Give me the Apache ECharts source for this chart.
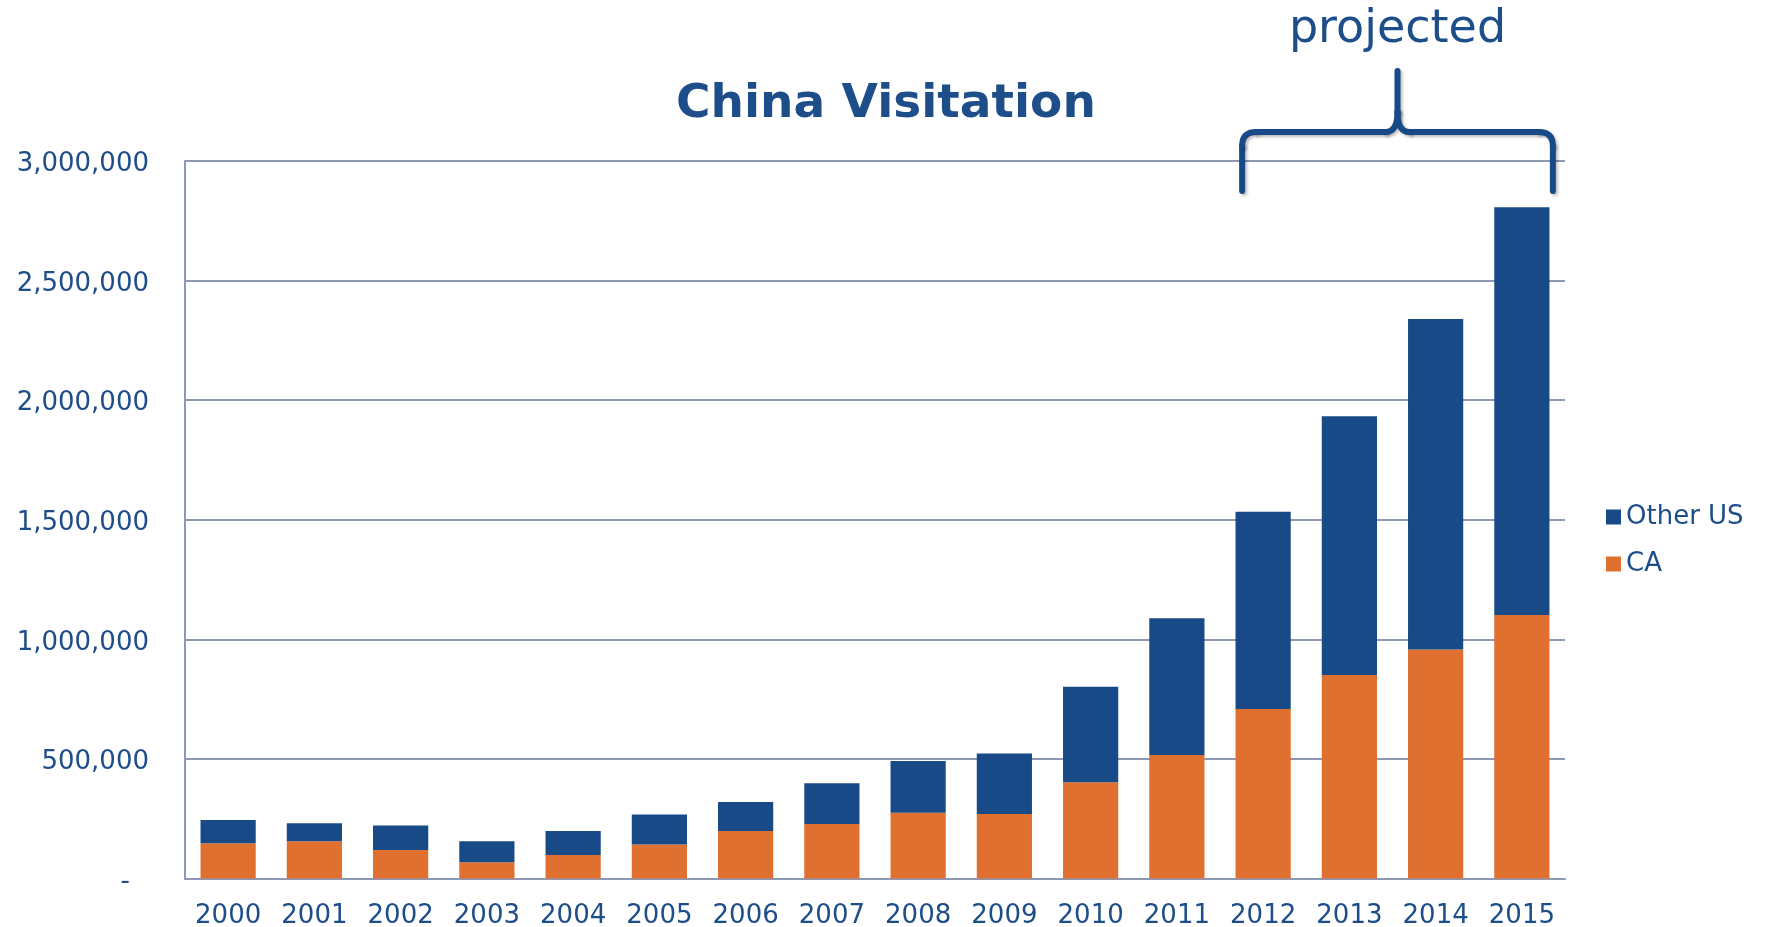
<!DOCTYPE html>
<html>
<head>
<meta charset="utf-8">
<title>China Visitation</title>
<script src="https://cdn.jsdelivr.net/npm/echarts@6/dist/echarts.min.js"></script>
<style>
  html, body { margin: 0; padding: 0; background: #fff; }
  #main { width: 1769px; height: 927px; }
</style>
</head>
<body>
<div id="main"></div>
<script>
  // data
  var years = ['2000', '2001', '2002', '2003', '2004', '2005', '2006', '2007',
               '2008', '2009', '2010', '2011', '2012', '2013', '2014', '2015']
  var caVisits = [147000, 156000, 119000, 68000, 98000, 142000, 199000, 228000,
                  275000, 270000, 402000, 516000, 709000, 851000, 958000, 1102000]
  var otherUsVisits = [98000, 75000, 103000, 88000, 101000, 126000, 121000, 170000,
                       216000, 253000, 400000, 572000, 824000, 1082000, 1381000, 1705000]
  var projectedFrom = '2012'
  var projectedTo = '2015'

  var blue = '#174a87'
  var orange = '#e07030'
  var textBlue = '#1d4e89'
  var lineColor = '#8c98b4'
  var font = 'DejaVu Sans'

  var chart = echarts.init(document.getElementById('main'))

  var option = {
    animation: false,
    title: {
      text: 'China Visitation',
      left: 671,
      top: 76,
      textStyle: {
        color: textBlue,
        fontFamily: font,
        fontSize: 47,
        fontWeight: 'bold'
      }
    },
    legend: {
      orient: 'vertical',
      left: 1601,
      top: 499,
      itemWidth: 15,
      itemHeight: 15,
      itemGap: 21,
      icon: 'rect',
      textStyle: {
        color: textBlue,
        fontFamily: font,
        fontSize: 26,
        lineHeight: 26
      },
      data: ['Other US', 'CA']
    },
    grid: {
      left: 185,
      right: 204,
      top: 161,
      bottom: 48.5,
      outerBoundsMode: 'none'
    },
    xAxis: {
      type: 'category',
      data: years,
      axisLine: { show: true, lineStyle: { color: lineColor, width: 2 } },
      axisTick: { show: false },
      axisLabel: {
        color: textBlue,
        fontFamily: font,
        fontSize: 26,
        margin: 25,
        interval: 0
      }
    },
    yAxis: {
      type: 'value',
      min: 0,
      max: 3000000,
      interval: 500000,
      axisLine: { show: true, lineStyle: { color: lineColor, width: 2 } },
      axisTick: { show: false },
      splitLine: { lineStyle: { color: lineColor, width: 2 } },
      axisLabel: {
        color: textBlue,
        fontFamily: font,
        fontSize: 26,
        margin: 36,
        padding: [7, 0, 0, 0],
        formatter: function (v) {
          if (v === 0) return '{dash|-}'
          return v.toLocaleString('en-US')
        },
        rich: {
          dash: { color: textBlue, fontFamily: font, fontSize: 26, padding: [0, 19, 0, 0] }
        }
      }
    },
    series: [
      {
        name: 'CA',
        type: 'bar',
        stack: 'visits',
        barWidth: '64%',
        itemStyle: { color: orange },
        data: caVisits
      },
      {
        name: 'Other US',
        type: 'bar',
        stack: 'visits',
        barWidth: '64%',
        itemStyle: { color: blue },
        data: otherUsVisits
      }
    ]
  }

  chart.setOption(option)

  // brace over the projected years, placed from the axes
  var xl = chart.convertToPixel({ xAxisIndex: 0 }, projectedFrom) - 21
  var xr = chart.convertToPixel({ xAxisIndex: 0 }, projectedTo) + 31
  var xm = (xl + xr) / 2
  var yTop = chart.convertToPixel({ yAxisIndex: 0 }, 3000000)
  var yb = yTop + 30
  var yh = yTop - 29
  var ys = yTop - 90
  var r = 14

  var braceStyle = {
    fill: null,
    stroke: blue,
    lineWidth: 6,
    lineCap: 'round',
    lineJoin: 'round',
    shadowBlur: 3,
    shadowOffsetX: 2,
    shadowOffsetY: 2,
    shadowColor: 'rgba(0,0,0,0.25)'
  }

  function seg(x1, y1, x2, y2) {
    return { type: 'line', shape: { x1: x1, y1: y1, x2: x2, y2: y2 }, style: braceStyle }
  }
  function curve(x1, y1, cx, cy, x2, y2) {
    return { type: 'bezierCurve', shape: { x1: x1, y1: y1, cpx1: cx, cpy1: cy, x2: x2, y2: y2 }, style: braceStyle }
  }

  chart.setOption({
    graphic: [
      {
        type: 'group',
        children: [
          seg(xl, yb, xl, yh + r),
          curve(xl, yh + r, xl, yh, xl + r, yh),
          seg(xl + r, yh, xm - 12, yh),
          curve(xm - 12, yh, xm, yh, xm, yh - 20),
          seg(xm, yh - 20, xm, ys),
          curve(xm + 12, yh, xm, yh, xm, yh - 20),
          seg(xm + 12, yh, xr - r, yh),
          curve(xr - r, yh, xr, yh, xr, yh + r),
          seg(xr, yh + r, xr, yb)
        ]
      },
      {
        type: 'text',
        x: xm,
        y: ys - 18,
        style: {
          text: 'projected',
          fill: textBlue,
          font: '46px "DejaVu Sans"',
          textAlign: 'center',
          textVerticalAlign: 'bottom'
        }
      }
    ]
  })
</script>
</body>
</html>
